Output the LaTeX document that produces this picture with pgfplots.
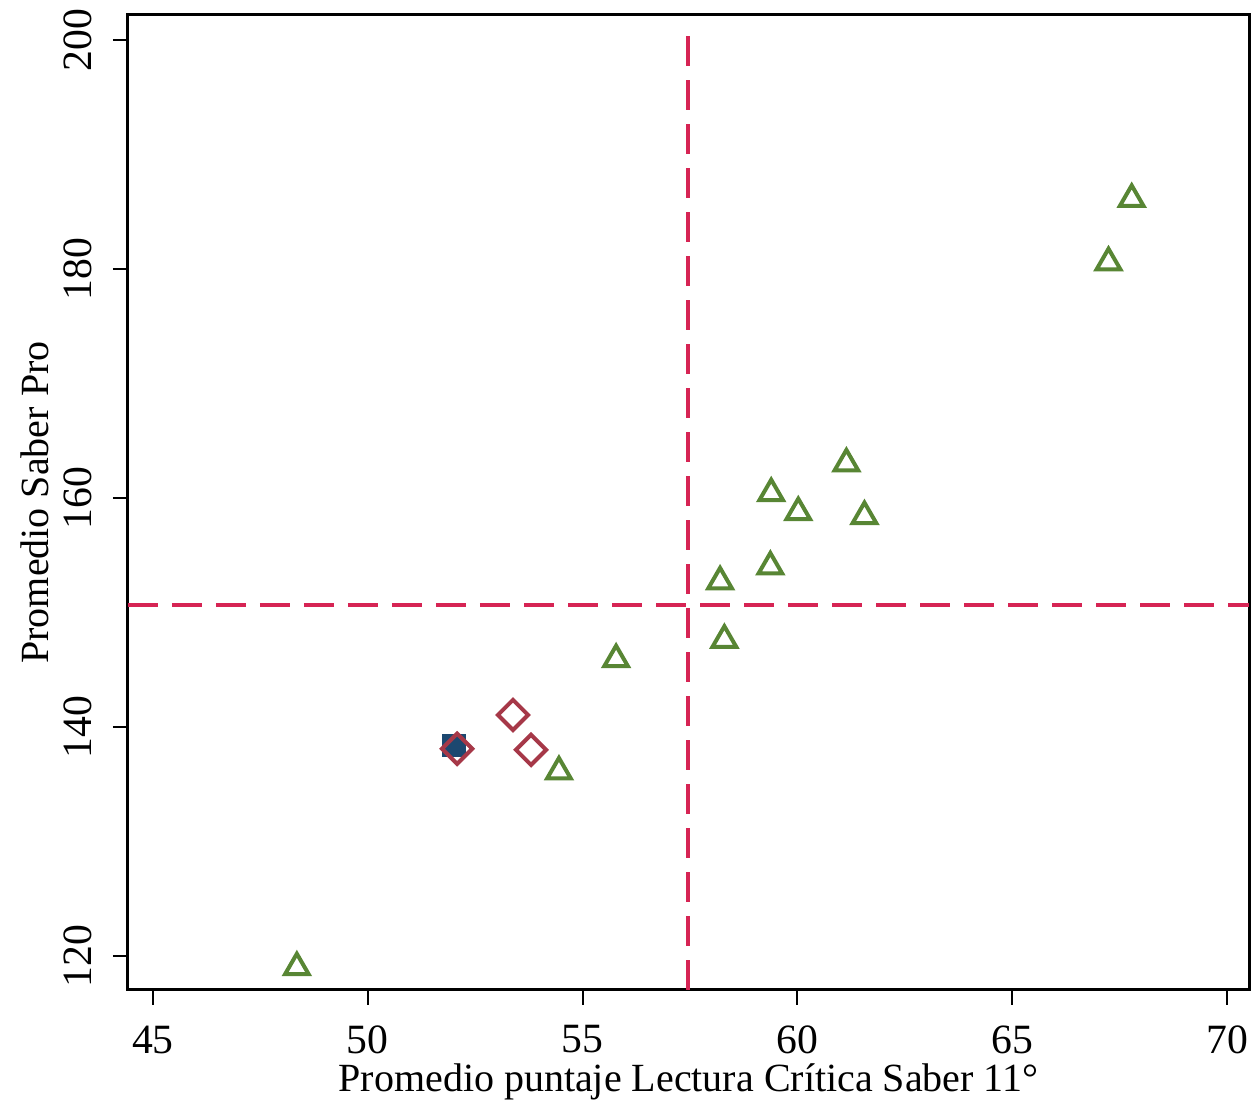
\documentclass[border=0pt]{standalone}
\usepackage{pgfplots}
\pgfplotsset{compat=1.18}
\usepackage{fontspec}
\setmainfont{Liberation Serif}
\definecolor{triG}{RGB}{88,134,52}
\definecolor{diaR}{RGB}{166,56,72}
\definecolor{sqB}{RGB}{28,72,112}
\definecolor{refR}{RGB}{214,36,84}
\begin{document}
\begin{tikzpicture}
\begin{axis}[
  scale only axis=true,
  width=336.3pt, height=292.5pt,
  xmin=44.42, xmax=70.51, ymin=117.03, ymax=202.18,
  xtick={45,50,55,60,65,70},
  ytick={120,140,160,180,200},
  tick align=outside,
  major tick length=4.5pt,
  xtick pos=bottom, ytick pos=left,
  axis line style={line width=0.9pt},
  every tick/.style={black, line width=0.6pt},
  /pgf/number format/assume math mode=true,
  font=\fontsize{12.5}{14}\selectfont,
  xticklabel style={anchor=north, inner sep=0pt, yshift=-6pt},
  yticklabel style={rotate=90, anchor=south, inner sep=0pt, yshift=6pt},
  xlabel={Promedio puntaje Lectura Crítica Saber 11°},
  ylabel={Promedio Saber Pro},
  xlabel style={at={(axis description cs:0.5,0)}, anchor=center, yshift=-27.6pt, font=\fontsize{12}{14}\selectfont},
  ylabel style={at={(axis description cs:0,0.5)}, anchor=center, yshift=27.9pt, font=\fontsize{12}{14}\selectfont},
  clip=false,
]
\addplot[refR, line width=1.2pt, dash pattern=on 9pt off 4.2pt] coordinates {(44.42,150.65) (70.51,150.65)};
\addplot[refR, line width=1.2pt, dash pattern=on 9pt off 4.2pt] coordinates {(57.46,117.03) (57.46,200.9)};
\addplot[only marks, mark=square*, mark size=3.3pt, sqB, mark options={fill=sqB}] coordinates {(52.01,138.4)};
\addplot[only marks, mark=square, mark size=3.2pt, diaR, mark options={line width=1.2pt, rotate=45}] coordinates {
(53.38,141.05) (53.80,138.0) (52.08,138.1)};
\addplot[only marks, mark=triangle, mark size=4.1pt, triG, mark options={line width=1.2pt}] coordinates {
(67.78,186.1) (67.24,180.57) (61.14,163.0) (59.39,160.4) (60.02,158.74) (61.56,158.4)
(59.37,154.0) (58.20,152.7) (58.30,147.6) (55.78,145.9) (54.45,136.1) (48.35,119.0)};
\end{axis}
\pgfresetboundingbox
\path ([shift={(-38.4pt,-33pt)}]current axis.south west) rectangle ([shift={(0.6pt,4.5pt)}]current axis.north east);
\end{tikzpicture}
\end{document}
